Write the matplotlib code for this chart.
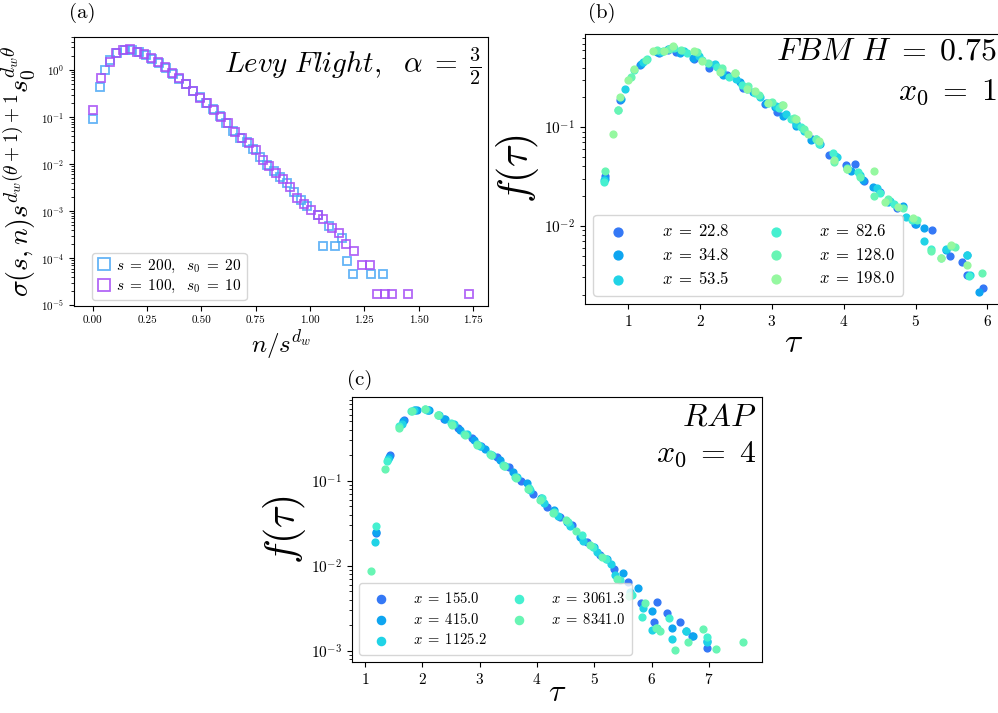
import matplotlib
matplotlib.use("Agg")
import matplotlib.pyplot as plt
import numpy as np

plt.rcParams['mathtext.fontset'] = 'cm'
plt.rcParams['axes.formatter.use_mathtext'] = True
plt.rcParams['font.family'] = ['cmr10', 'DejaVu Sans']
plt.rcParams['axes.unicode_minus'] = False

# ---------------- Panel (a) data: Levy flight ----------------
a_blue_x = [0.000, 0.031, 0.054, 0.078, 0.112, 0.146, 0.180, 0.212, 0.243, 0.274, 0.305, 0.336,
            0.367, 0.398, 0.429, 0.460, 0.491, 0.522, 0.553, 0.584, 0.615, 0.646, 0.677, 0.708,
            0.739, 0.770, 0.801, 0.832, 0.863, 0.894, 0.925, 0.956, 0.987, 1.034, 1.061, 1.089,
            1.115, 1.146, 1.168, 1.199, 1.279, 1.334]
a_blue_y = [0.089, 0.44, 1.0, 1.6, 2.25, 2.65, 2.65, 2.35, 2.05, 1.7, 1.38, 1.12,
            0.83, 0.65, 0.49, 0.36, 0.26, 0.20, 0.145, 0.105, 0.076, 0.051, 0.036, 0.029,
            0.021, 0.0138, 0.0095, 0.0072, 0.0054, 0.0040, 0.0026, 0.0017, 0.0013, 0.00082, 0.00018, 0.00049,
            0.00018, 0.00027, 0.000089, 0.000045, 0.000045, 0.000045]
a_purple_x = [0.002, 0.039, 0.077, 0.107, 0.140, 0.173, 0.205, 0.237, 0.269, 0.301, 0.333, 0.365,
              0.397, 0.429, 0.461, 0.493, 0.525, 0.557, 0.589, 0.621, 0.653, 0.685, 0.717, 0.749,
              0.781, 0.813, 0.845, 0.877, 0.909, 0.941, 0.973, 1.005, 1.037, 1.061, 1.100, 1.133,
              1.165, 1.202, 1.239, 1.274, 1.309, 1.344, 1.378, 1.450, 1.732]
a_purple_y = [0.139, 0.66, 1.5, 2.26, 2.6, 2.75, 2.45, 2.15, 1.78, 1.45, 1.15, 0.85,
              0.66, 0.50, 0.36, 0.257, 0.195, 0.141, 0.102, 0.074, 0.049, 0.036, 0.0275, 0.020,
              0.0123, 0.0089, 0.0065, 0.0047, 0.0032, 0.0019, 0.0014, 0.00107, 0.00083, 0.00069, 0.00044, 0.00035,
              0.000196, 0.00014, 0.00007, 0.00007, 0.0000175, 0.0000175, 0.0000175, 0.0000175, 0.0000175]
a_labels = [r'$s\;=\;200,\ \ s_0\;=\;20$', r'$s\;=\;100,\ \ s_0\;=\;10$']
a_xticks = [0.0, 0.25, 0.5, 0.75, 1.0, 1.25, 1.5, 1.75]

# ---------------- Panel (b) data: FBM ----------------
b_labels = [r'$x\;=\;22.8$', r'$x\;=\;34.8$', r'$x\;=\;53.5$',
            r'$x\;=\;82.6$', r'$x\;=\;128.0$', r'$x\;=\;198.0$']
b_tau = [
    [0.67, 0.89, 1.16, 1.42, 1.55, 1.66, 1.92, 2.13, 2.37, 2.59, 2.90, 3.07, 3.33, 3.56, 3.79,
     4.03, 4.15, 4.28, 4.51, 4.74, 4.99, 5.23, 5.48, 5.65, 5.71, 5.94],
    [0.67, 0.90, 1.17, 1.40, 1.55, 1.72, 1.90, 2.12, 2.32, 2.55, 2.73, 2.92, 3.04, 3.16, 3.34,
     3.55, 3.67, 3.88, 4.10, 4.27, 4.41, 4.62, 4.83, 5.00, 5.12, 5.42, 5.72, 5.89],
    [0.66, 0.96, 1.20, 1.45, 1.60, 1.78, 1.98, 2.20, 2.30, 2.50, 2.65, 2.84, 3.05, 3.20, 3.33,
     3.45, 3.62, 3.90, 4.23, 4.46, 4.64, 4.87, 5.12, 5.42, 5.71, 5.76],
    [0.66, 0.86, 1.08, 1.26, 1.48, 1.63, 1.82, 2.02, 2.24, 2.40, 2.58, 2.76, 2.95, 3.10, 3.27,
     3.41, 3.66, 3.85, 4.05, 4.20, 4.50, 4.70, 4.95, 5.22, 5.36, 5.74],
    [0.68, 0.85, 1.04, 1.24, 1.40, 1.56, 1.74, 1.95, 2.11, 2.30, 2.48, 2.66, 2.82, 3.00, 3.14,
     3.30, 3.44, 3.62, 3.87, 4.05, 4.22, 4.42, 4.62, 4.82, 5.02, 5.22, 5.49, 5.55, 5.92],
    [0.79, 0.89, 1.00, 1.08, 1.35, 1.50, 1.62, 1.92, 2.02, 2.28, 2.48, 2.65, 2.76, 2.94, 3.15,
     3.33, 3.50, 3.66, 3.86, 4.05, 4.42, 4.58, 4.76, 4.96, 5.36, 5.50, 5.72],
]
b_f = [
    [0.032, 0.19, 0.43, 0.57, 0.60, 0.58, 0.49, 0.40, 0.34, 0.252, 0.172, 0.142, 0.11, 0.075, 0.0527,
     0.041, 0.042, 0.0284, 0.022, 0.0153, 0.0105, 0.0091, 0.0050, 0.0043, 0.0032, 0.00237],
    [0.030, 0.195, 0.44, 0.58, 0.62, 0.57, 0.50, 0.44, 0.34, 0.29, 0.225, 0.175, 0.16, 0.13, 0.102,
     0.074, 0.068, 0.051, 0.036, 0.029, 0.0249, 0.0175, 0.0158, 0.0105, 0.0095, 0.0057, 0.0051, 0.00215],
    [0.029, 0.243, 0.46, 0.58, 0.64, 0.59, 0.52, 0.44, 0.37, 0.31, 0.245, 0.20, 0.165, 0.135, 0.108,
     0.092, 0.075, 0.05, 0.033, 0.024, 0.018, 0.0124, 0.0070, 0.0058, 0.0051, 0.0032],
    [0.028, 0.15, 0.38, 0.49, 0.59, 0.63, 0.57, 0.48, 0.41, 0.32, 0.265, 0.22, 0.175, 0.155, 0.122,
     0.10, 0.068, 0.055, 0.039, 0.035, 0.0215, 0.0165, 0.0115, 0.0058, 0.0047, 0.0031],
    [0.036, 0.15, 0.32, 0.48, 0.60, 0.62, 0.60, 0.58, 0.45, 0.40, 0.355, 0.26, 0.21, 0.18, 0.168,
     0.125, 0.095, 0.076, 0.044, 0.038, 0.031, 0.020, 0.0185, 0.015, 0.0115, 0.0055, 0.0063, 0.0061, 0.0033],
    [0.086, 0.20, 0.30, 0.39, 0.59, 0.59, 0.66, 0.59, 0.47, 0.36, 0.357, 0.245, 0.23, 0.175, 0.169,
     0.122, 0.085, 0.072, 0.046, 0.038, 0.0358, 0.0175, 0.0155, 0.012, 0.0047, 0.0064, 0.0040],
]

# ---------------- Panel (c) data: RAP ----------------
c_labels = [r'$x\;=\;155.0$', r'$x\;=\;415.0$', r'$x\;=\;1125.2$',
            r'$x\;=\;3061.3$', r'$x\;=\;8341.0$']
c_tau = [
    [1.19, 1.44, 1.68, 1.88, 2.10, 2.38, 2.62, 2.86, 3.02, 3.30, 3.52, 3.72, 3.94, 4.17, 4.40,
     4.62, 4.87, 5.10, 5.34, 5.58, 5.81, 6.04, 6.10, 6.27, 6.50, 6.71, 6.97],
    [1.20, 1.42, 1.66, 1.90, 2.12, 2.40, 2.66, 2.90, 3.10, 3.36, 3.58, 3.82, 4.07, 4.30, 4.52,
     4.75, 5.00, 5.22, 5.50, 5.76, 6.00, 6.35, 6.60, 6.73, 6.96],
    [1.18, 1.40, 1.64, 1.86, 2.08, 2.30, 2.55, 2.78, 3.00, 3.22, 3.45, 3.66, 3.88, 4.12, 4.36,
     4.58, 4.80, 5.05, 5.30, 5.36, 5.62, 5.85, 6.00, 6.35, 6.60, 6.96],
    [1.20, 1.39, 1.60, 1.80, 2.04, 2.28, 2.50, 2.72, 2.95, 3.18, 3.40, 3.62, 3.86, 4.08, 4.30,
     4.55, 4.78, 4.98, 5.20, 5.44, 5.66, 5.84, 6.10, 6.30, 6.97],
    [1.10, 1.35, 1.59, 1.82, 2.05, 2.27, 2.52, 2.74, 2.96, 3.20, 3.42, 3.64, 3.84, 4.05, 4.28,
     4.50, 4.68, 4.93, 5.14, 5.40, 5.60, 5.88, 6.07, 6.15, 6.41, 6.64, 6.89, 7.12, 7.60],
]
c_f = [
    [0.0245, 0.200, 0.52, 0.68, 0.69, 0.54, 0.42, 0.32, 0.255, 0.19, 0.145, 0.10, 0.07, 0.049, 0.038,
     0.030, 0.019, 0.0135, 0.0092, 0.0064, 0.0036, 0.0022, 0.0037, 0.00275, 0.0022, 0.0015, 0.00108],
    [0.0252, 0.190, 0.50, 0.69, 0.68, 0.53, 0.40, 0.30, 0.235, 0.175, 0.128, 0.093, 0.063, 0.045, 0.033,
     0.022, 0.0165, 0.012, 0.0082, 0.0054, 0.0029, 0.00185, 0.0017, 0.0015, 0.0013],
    [0.0193, 0.180, 0.47, 0.68, 0.69, 0.59, 0.47, 0.355, 0.26, 0.20, 0.15, 0.11, 0.078, 0.055, 0.039,
     0.029, 0.0195, 0.0145, 0.0104, 0.0078, 0.0049, 0.0032, 0.00175, 0.00138, 0.0017, 0.00125],
    [0.0297, 0.170, 0.44, 0.67, 0.70, 0.60, 0.48, 0.36, 0.27, 0.205, 0.155, 0.112, 0.083, 0.062, 0.043,
     0.033, 0.023, 0.0168, 0.0120, 0.0068, 0.0045, 0.0025, 0.00186, 0.0024, 0.00145],
    [0.0087, 0.138, 0.418, 0.67, 0.70, 0.59, 0.46, 0.35, 0.265, 0.20, 0.148, 0.107, 0.080, 0.060, 0.042,
     0.035, 0.026, 0.0175, 0.0128, 0.0070, 0.0044, 0.0036, 0.00186, 0.0017, 0.00102, 0.00127, 0.0018, 0.00104, 0.00128],
]

b_colors = ['#3478f6', '#0ea5f0', '#20d3e6', '#45f0d0', '#68f5b4', '#95f8a0']
c_colors = ['#3478f6', '#0ea5f0', '#20d3e6', '#45f0d0', '#68f5b4']

fig = plt.figure(figsize=(9.98, 7.13), dpi=100)
W, H = 998.0, 713.0

def place(l, t, r, b):
    return [l / W, 1 - b / H, (r - l) / W, (b - t) / H]

# ---------- (a) ----------
axa = fig.add_axes(place(74, 37, 488, 306))
axa.plot(a_blue_x, a_blue_y, 's', mfc='none', mec='#4aa8f5', mew=1.3, ms=5.8, alpha=0.85,
         label=a_labels[0])
axa.plot(a_purple_x, a_purple_y, 's', mfc='none', mec='#a54df5', mew=1.3, ms=5.8, alpha=0.85,
         label=a_labels[1])
axa.set_yscale('log')
axa.set_xticks(a_xticks)
axa.set_xticklabels([f'{v:.2f}' for v in a_xticks])
axa.tick_params(labelsize=8)
axa.set_xlabel(r'$n/s^{d_w}$', fontsize=18, labelpad=2)
axa.set_ylabel(r'$\sigma(s,n)s^{d_w(\theta+1)+1}s_0^{d_w\theta}$', fontsize=20, labelpad=2)
axa.text(0.985, 0.97, r'$Levy\ Flight,\ \ \alpha\;=\;\frac{3}{2}$', transform=axa.transAxes,
         ha='right', va='top', fontsize=21)
axa.legend(loc='lower left', bbox_to_anchor=(0.025, -0.005), fontsize=11, markerscale=1.5,
           handlelength=1.0, handletextpad=0.3, borderpad=0.3, labelspacing=0.2)
fig.text(82 / W, 1 - 13 / H, '(a)', fontsize=15, ha='center', va='center')

# ---------- (b) ----------
axb = fig.add_axes(place(585, 34, 1002, 304))
for i in range(len(b_labels)):
    axb.scatter(b_tau[i], b_f[i], s=24, color=b_colors[i], label=b_labels[i], zorder=3)
axb.set_yscale('log')
axb.set_xticks([1, 2, 3, 4, 5, 6])
axb.tick_params(labelsize=11)
axb.set_xlabel(r'$\tau$', fontsize=24, labelpad=0)
axb.set_ylabel(r'$f(\tau)$', fontsize=30, labelpad=2)
axb.text(0.986, 0.985, r'$FBM\ H\;=\;0.75$', transform=axb.transAxes, ha='right', va='top', fontsize=23)
axb.text(0.986, 0.84, r'$x_0\;=\;1$', transform=axb.transAxes, ha='right', va='top', fontsize=23)
axb.legend(loc='lower left', ncol=2, fontsize=12, markerscale=1.3, handletextpad=1.6,
           columnspacing=1.8, borderpad=0.5, labelspacing=0.45)
fig.text(602 / W, 1 - 13 / H, '(b)', fontsize=15, ha='center', va='center')

# ---------- (c) ----------
axc = fig.add_axes(place(352, 397, 762, 662))
for i in range(len(c_labels)):
    axc.scatter(c_tau[i], c_f[i], s=24, color=c_colors[i], label=c_labels[i], zorder=3)
axc.set_yscale('log')
axc.set_xticks([1, 2, 3, 4, 5, 6, 7])
axc.tick_params(labelsize=11)
axc.set_xlabel(r'$\tau$', fontsize=23, labelpad=-5)
axc.set_ylabel(r'$f(\tau)$', fontsize=30, labelpad=2)
axc.text(0.986, 0.975, r'$RAP$', transform=axc.transAxes, ha='right', va='top', fontsize=23)
axc.text(0.986, 0.84, r'$x_0\;=\;4$', transform=axc.transAxes, ha='right', va='top', fontsize=23)
axc.legend(loc='lower left', ncol=2, fontsize=10.5, markerscale=1.2, handletextpad=1.2,
           columnspacing=1.2, borderpad=0.5, labelspacing=0.4)
fig.text(360 / W, 1 - 380 / H, '(c)', fontsize=15, ha='center', va='center')

fig.savefig('out.png', dpi=100)
